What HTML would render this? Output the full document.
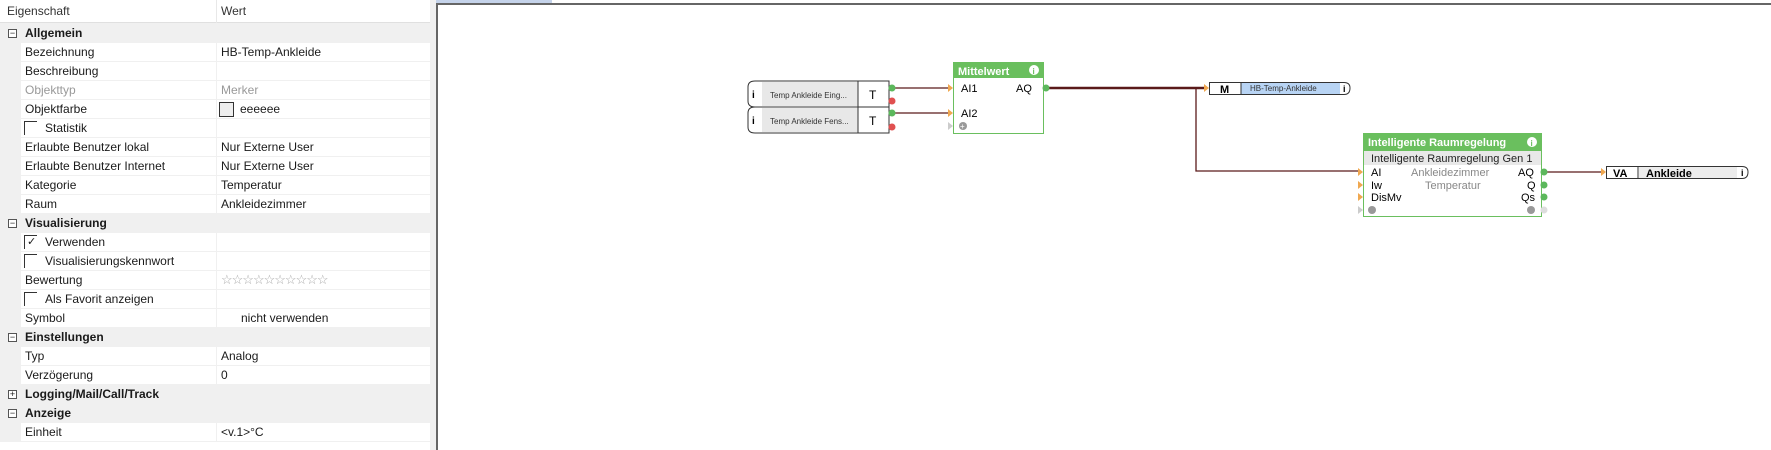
<!DOCTYPE html>
<html><head><meta charset="utf-8"><style>
*{margin:0;padding:0;box-sizing:border-box}
body{width:1771px;height:450px;overflow:hidden;background:#fff;font-family:"Liberation Sans",sans-serif;position:relative}
.abs{position:absolute}
#panel{left:0;top:0;width:436px;height:450px;background:#f0f0f0}
.row{position:absolute;left:0;width:430px;height:19px;font-size:12px;line-height:18px;color:#1a1a1a}
.grp{background:#f0f0f0;font-weight:bold}
.sub{background:#fff;border-bottom:1px solid #f0f0f0}
.sub .lbl{position:absolute;left:25px}
.sub .val{position:absolute;left:221px}
.sub::before{content:"";position:absolute;left:0;top:0;width:21px;height:19px;background:#f0f0f0}
.sub::after{content:"";position:absolute;left:216px;top:0;width:1px;height:19px;background:#f0f0f0}
.grp .lbl{position:absolute;left:25px}
.pm{position:absolute;left:8px;top:5px;width:9px;height:9px;border:1px solid #555;font-size:9px;line-height:7px;text-align:center;font-weight:normal;background:#fff}
.cb{position:absolute;left:24px;top:2px;width:13px;height:14px;border-left:1px solid #333;border-top:1px solid #333;font-size:11px;line-height:13px;padding-left:2px}
.t{font-size:11px;font-family:"Liberation Sans",sans-serif}
</style></head><body>
<div id="panel" class="abs"></div>
<div class="row" style="top:0;height:23px;background:#fff;border-bottom:1px solid #e0e0e0;line-height:23px;color:#333"><span style="position:absolute;left:7px">Eigenschaft</span><span style="position:absolute;left:216px;top:0;width:1px;height:23px;background:#e8e8e8"></span><span style="position:absolute;left:221px">Wert</span></div>
<div class="row grp" style="top:24px"><span class="pm">−</span><span class="lbl">Allgemein</span></div>
<div class="row sub" style="top:43px"><span class="lbl">Bezeichnung</span><span class="val">HB-Temp-Ankleide</span></div>
<div class="row sub" style="top:62px"><span class="lbl">Beschreibung</span></div>
<div class="row sub" style="top:81px;color:#999"><span class="lbl">Objekttyp</span><span class="val">Merker</span></div>
<div class="row sub" style="top:100px"><span class="lbl">Objektfarbe</span><span style="position:absolute;left:219px;top:2px;width:15px;height:15px;border:1px solid #333;background:#eee"></span><span style="position:absolute;left:240px">eeeeee</span></div>
<div class="row sub" style="top:119px"><span class="cb"></span><span class="lbl" style="left:45px">Statistik</span></div>
<div class="row sub" style="top:138px"><span class="lbl">Erlaubte Benutzer lokal</span><span class="val">Nur Externe User</span></div>
<div class="row sub" style="top:157px"><span class="lbl">Erlaubte Benutzer Internet</span><span class="val">Nur Externe User</span></div>
<div class="row sub" style="top:176px"><span class="lbl">Kategorie</span><span class="val">Temperatur</span></div>
<div class="row sub" style="top:195px"><span class="lbl">Raum</span><span class="val">Ankleidezimmer</span></div>
<div class="row grp" style="top:214px"><span class="pm">−</span><span class="lbl">Visualisierung</span></div>
<div class="row sub" style="top:233px"><span class="cb">✓</span><span class="lbl" style="left:45px">Verwenden</span></div>
<div class="row sub" style="top:252px"><span class="cb"></span><span class="lbl" style="left:45px">Visualisierungskennwort</span></div>
<div class="row sub" style="top:271px"><span class="lbl">Bewertung</span><span class="val" style="color:#aaa;font-size:13px;letter-spacing:-1px">☆☆☆☆☆☆☆☆☆☆</span></div>
<div class="row sub" style="top:290px"><span class="cb"></span><span class="lbl" style="left:45px">Als Favorit anzeigen</span></div>
<div class="row sub" style="top:309px"><span class="lbl">Symbol</span><span class="val" style="left:241px">nicht verwenden</span></div>
<div class="row grp" style="top:328px"><span class="pm">−</span><span class="lbl">Einstellungen</span></div>
<div class="row sub" style="top:347px"><span class="lbl">Typ</span><span class="val">Analog</span></div>
<div class="row sub" style="top:366px"><span class="lbl">Verzögerung</span><span class="val">0</span></div>
<div class="row grp" style="top:385px"><span class="pm">+</span><span class="lbl">Logging/Mail/Call/Track</span></div>
<div class="row grp" style="top:404px"><span class="pm">−</span><span class="lbl">Anzeige</span></div>
<div class="row sub" style="top:423px"><span class="lbl">Einheit</span><span class="val">&lt;v.1&gt;°C</span></div>
<div class="row" style="top:442px;background:#fff;height:8px"></div>

<div class="abs" style="left:436px;top:0;width:116px;height:4px;background:#c5d3ea"></div>
<div class="abs" style="left:436px;top:3px;width:1335px;height:447px;border-left:2px solid #666;border-top:2px solid #666;background:#fff"></div>

<svg class="abs" style="left:0;top:0" width="1771" height="450" font-family="Liberation Sans, sans-serif">
<!-- connectors -->
<g stroke="#5a1a1a" stroke-width="1.3" fill="none">
<line x1="895" y1="88" x2="948" y2="88"/>
<line x1="895" y1="113" x2="948" y2="113"/>
<line x1="1047" y1="88" x2="1204" y2="88" stroke-width="2.5"/>
<polyline points="1196,88 1196,171 1358,171"/>
<line x1="1545" y1="172" x2="1601" y2="172"/>
</g>
<!-- input blocks -->
<g>
<path d="M755,81 H889 V107 H755 Q748,107 748,101 V87 Q748,81 755,81Z" fill="#fff" stroke="#333"/>
<path d="M755,107 H889 V133 H755 Q748,133 748,127 V113 Q748,107 755,107Z" fill="#fff" stroke="#333"/>
<rect x="762" y="82" width="96" height="24" fill="#e8e8e8"/>
<rect x="762" y="108" width="96" height="24" fill="#e8e8e8"/>
<line x1="858" y1="81" x2="858" y2="133" stroke="#333"/>
<text x="752" y="98" font-size="10" font-weight="bold">i</text>
<text x="752" y="124" font-size="10" font-weight="bold">i</text>
<text x="770" y="98" font-size="8" fill="#333">Temp Ankleide Eing...</text>
<text x="770" y="124" font-size="8" fill="#333">Temp Ankleide Fens...</text>
<text x="869" y="99" font-size="12">T</text>
<text x="869" y="125" font-size="12">T</text>
<circle cx="892" cy="88" r="3.5" fill="#5cb85c"/><circle cx="892" cy="101" r="3.5" fill="#e05050"/>
<circle cx="892" cy="113" r="3.5" fill="#5cb85c"/><circle cx="892" cy="127" r="3.5" fill="#e05050"/>
</g>
<!-- Mittelwert -->
<g>
<rect x="953.5" y="62.5" width="90" height="71" fill="#fff" stroke="#6abf5e"/>
<rect x="953" y="62" width="91" height="16" fill="#6abf5e"/>
<text x="958" y="75" font-size="11" font-weight="bold" fill="#fff">Mittelwert</text>
<circle cx="1034" cy="70" r="5" fill="#fff"/><text x="1032.5" y="74" font-size="8" font-weight="bold" fill="#6abf5e">i</text>
<text x="961" y="92" font-size="11">AI1</text><text x="1016" y="92" font-size="11">AQ</text>
<text x="961" y="117" font-size="11">AI2</text>
<path d="M948,84 l5,4 l-5,4z" fill="#f0a850"/><path d="M948,109 l5,4 l-5,4z" fill="#f0a850"/>
<path d="M948,122 l5,4 l-5,4z" fill="#ccc"/>
<circle cx="963" cy="126" r="4" fill="#999"/><text x="960" y="129" font-size="8" fill="#fff">+</text>
<circle cx="1046" cy="88" r="3.5" fill="#5cb85c"/>
</g>
<!-- M block -->
<g>
<path d="M1204,84 l5,4 l-5,4z" fill="#f0a850"/>
<path d="M1209.5,82.5 H1344 Q1350,82.5 1350,88 Q1350,94.5 1344,94.5 H1209.5Z" fill="#fff" stroke="#333"/>
<rect x="1241" y="83" width="99" height="11" fill="#b8d4f4"/>
<line x1="1241" y1="82" x2="1241" y2="95" stroke="#333"/>
<text x="1220" y="93" font-size="11" font-weight="bold">M</text>
<text x="1250" y="91" font-size="8" fill="#333">HB-Temp-Ankleide</text>
<text x="1343" y="92" font-size="9" font-weight="bold">i</text>
</g>
<!-- Intelligente Raumregelung -->
<g>
<rect x="1363.5" y="133.5" width="178" height="83" fill="#fff" stroke="#6abf5e"/>
<rect x="1363" y="133" width="179" height="18" fill="#6abf5e"/>
<rect x="1364" y="151" width="177" height="14" fill="#e8e8e8"/>
<text x="1368" y="146" font-size="11" font-weight="bold" fill="#fff">Intelligente Raumregelung</text>
<circle cx="1532" cy="142" r="5" fill="#fff"/><text x="1530.5" y="146" font-size="8" font-weight="bold" fill="#6abf5e">i</text>
<text x="1371" y="162" font-size="11" fill="#222">Intelligente Raumregelung Gen 1</text>
<text x="1371" y="176" font-size="11">AI</text><text x="1411" y="176" font-size="11" fill="#888">Ankleidezimmer</text><text x="1518" y="176" font-size="11">AQ</text>
<text x="1371" y="189" font-size="11">Iw</text><text x="1425" y="189" font-size="11" fill="#888">Temperatur</text><text x="1527" y="189" font-size="11">Q</text>
<text x="1371" y="201" font-size="11">DisMv</text><text x="1521" y="201" font-size="11">Qs</text>
<path d="M1358,168 l5,4 l-5,4z" fill="#f0a850"/><path d="M1358,181 l5,4 l-5,4z" fill="#f0a850"/>
<path d="M1358,193 l5,4 l-5,4z" fill="#f0a850"/><path d="M1358,206 l5,4 l-5,4z" fill="#ccc"/>
<circle cx="1372" cy="210" r="4" fill="#999"/><circle cx="1531" cy="210" r="4" fill="#999"/>
<circle cx="1544" cy="172" r="3.5" fill="#5cb85c"/><circle cx="1544" cy="185" r="3.5" fill="#5cb85c"/>
<circle cx="1544" cy="197" r="3.5" fill="#5cb85c"/><circle cx="1544" cy="210" r="3.5" fill="#ddd"/>
</g>
<!-- VA block -->
<g>
<path d="M1601,168 l5,4 l-5,4z" fill="#f0a850"/>
<path d="M1606.5,166.5 H1742 Q1748,166.5 1748,172 Q1748,178.5 1742,178.5 H1606.5Z" fill="#fff" stroke="#333"/>
<rect x="1639" y="167" width="98" height="11" fill="#ececec"/>
<line x1="1638" y1="166" x2="1638" y2="179" stroke="#333"/>
<text x="1613" y="177" font-size="11" font-weight="bold">VA</text>
<text x="1646" y="177" font-size="11" font-weight="bold">Ankleide</text>
<text x="1741" y="176" font-size="9" font-weight="bold">i</text>
</g>
</svg>
</body></html>
